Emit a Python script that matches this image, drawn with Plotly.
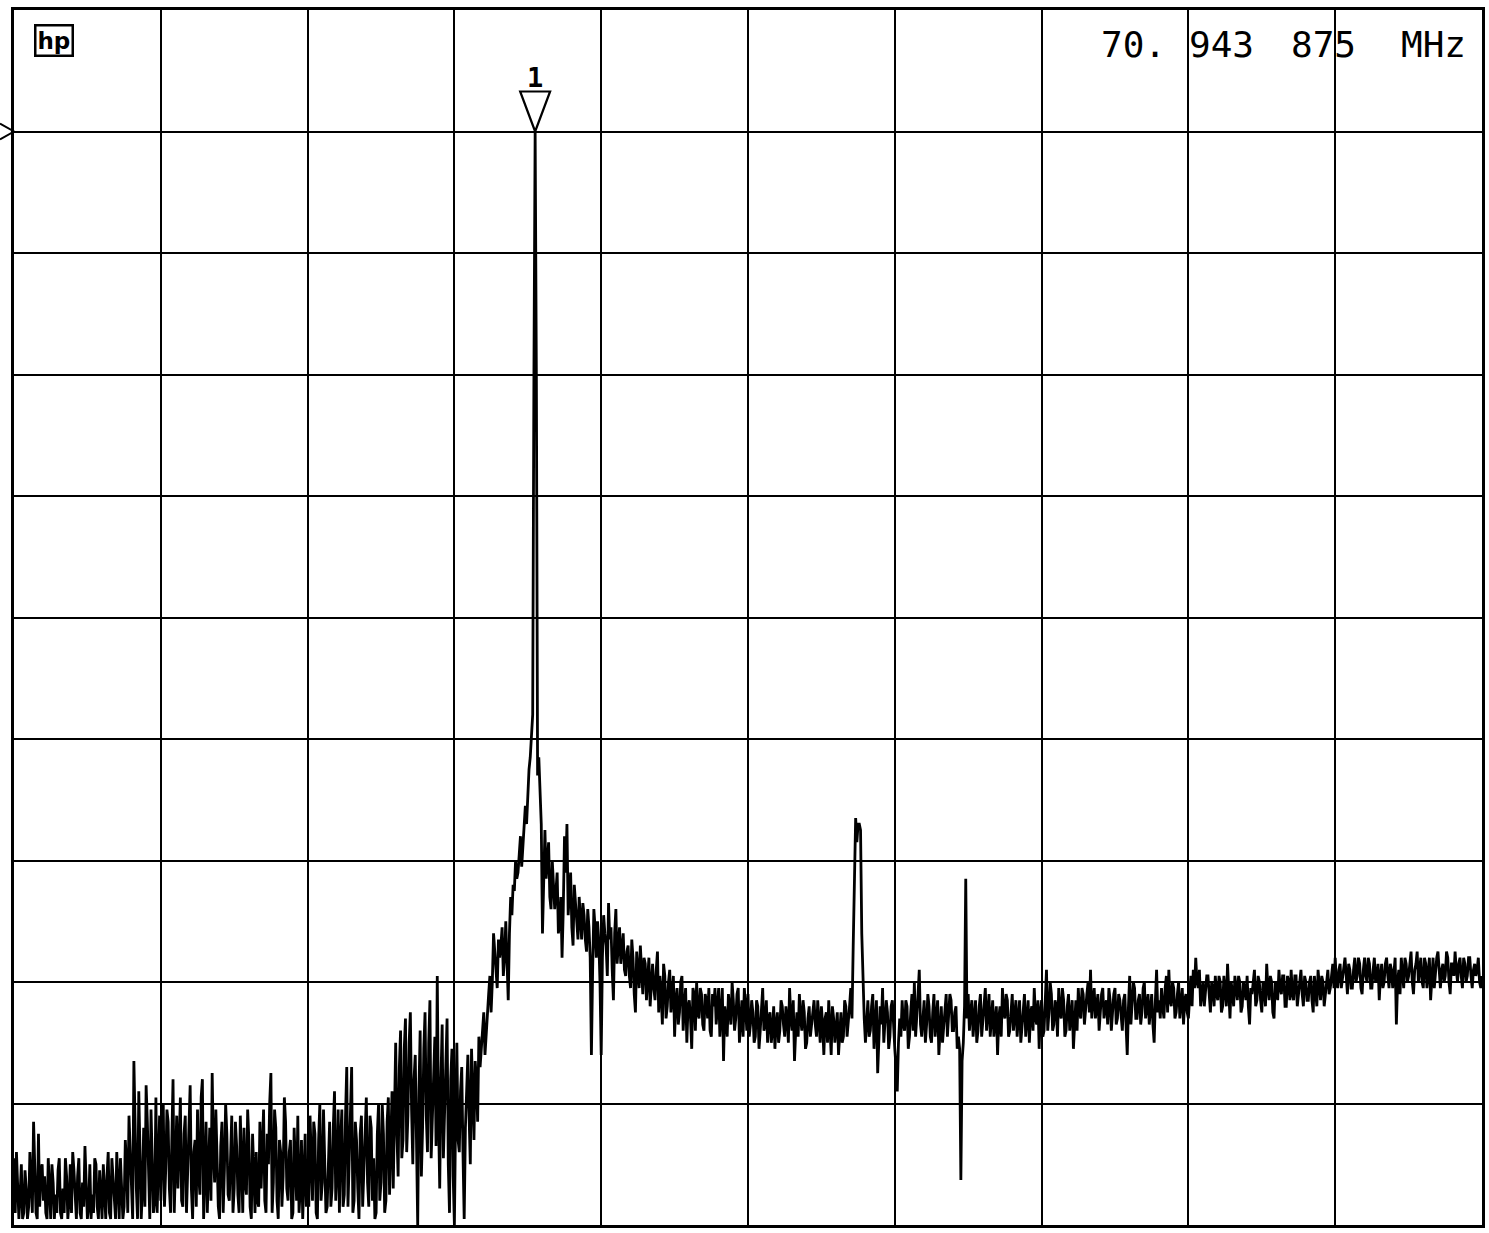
import numpy as np
import plotly.graph_objects as go

# Trace level (screen divisions above the bottom graticule line), 60 bins per horizontal division
div0 = [0.55,0.60,0.05,0.50,0.10,0.30,0.15,0.40,0.85,0.10,
        0.75,0.45,0.20,0.10,0.55,0.05,0.35,0.25,0.45,0.10,
        0.30,0.55,0.05,0.50,0.60,0.20,0.40,0.10,0.35,0.65,
        0.05,0.50,0.25,0.55,0.15,0.45,0.05,0.30,0.40,0.10,
        0.55,0.20,0.60,0.05,0.35,0.15,0.50,0.90,0.20,1.35,
        0.30,1.10,0.05,0.80,1.15,0.40,0.95,0.10,1.05,0.60]
div1 = [0.20,1.00,0.45,0.85,0.10,1.20,0.55,0.30,1.05,0.15,
        0.90,0.40,1.15,0.05,0.70,0.95,0.25,1.20,0.50,0.10,
        0.80,1.25,0.35,0.60,0.05,0.85,0.45,0.75,0.20,0.90,
        0.30,0.65,0.10,0.55,0.80,0.25,0.70,0.05,0.45,0.60,
        0.15,0.30,0.95,0.10,0.50,1.25,0.35,0.80,0.05,0.60,
        0.40,0.85,0.20,0.70,0.10,0.55,0.90,0.30,0.05,0.75]
div2 = [0.40,0.90,0.20,0.75,0.05,1.00,0.35,0.60,0.15,0.85,
        0.30,1.10,0.45,0.10,0.95,0.25,1.30,0.50,1.30,0.20,
        0.70,0.05,0.90,0.40,1.05,0.15,0.80,0.55,0.10,1.00,
        0.35,0.75,0.20,1.05,0.60,0.30,1.50,0.40,1.60,0.70,
        1.70,0.90,1.75,0.50,1.40,0.00,1.60,0.80,1.75,0.60,
        1.85,0.90,1.55,2.05,0.30,1.65,0.95,1.70,0.10,1.45]
div3 = [0.00,1.50,0.60,1.30,0.05,1.20,0.90,1.45,0.70,1.20,
        1.55,1.45,1.75,1.60,1.90,1.75,2.40,2.10,2.35,2.30,
        2.05,2.50,1.85,2.70,2.80,3.00,2.90,3.20,3.10,3.45,
        3.60,3.85,4.20,9.00,3.70,3.50,2.40,3.25,3.05,2.70,
        3.00,2.60,2.90,2.50,2.20,3.20,3.30,2.75,2.45,2.80,
        2.50,2.70,2.35,2.55,2.25,2.45,1.40,2.60,2.20,2.35]
div4 = [1.40,2.55,2.30,2.65,2.45,1.85,2.60,2.30,2.15,2.40,
        2.05,2.30,1.95,2.20,1.75,2.10,2.30,1.90,2.15,2.00,
        1.80,2.15,1.85,2.25,2.05,1.65,2.05,1.80,2.10,1.90,
        1.55,1.95,1.75,2.05,1.80,1.50,1.85,1.45,1.90,2.00,
        1.70,1.90,1.60,1.85,1.95,1.55,1.80,1.65,1.95,1.75,
        1.35,1.70,1.90,1.65,1.85,1.70,1.95,1.75,1.55,1.80]
div5 = [1.90,1.65,1.75,1.55,1.80,1.60,1.95,1.65,1.50,1.75,
        1.60,1.45,1.75,1.60,1.80,1.55,1.70,1.95,1.60,1.35,
        1.75,1.90,1.60,1.75,1.50,1.80,1.65,1.85,1.55,1.70,
        1.80,1.40,1.75,1.85,1.40,1.70,1.60,1.40,1.75,1.55,
        1.80,1.65,1.95,2.30,3.35,3.30,3.25,1.90,1.50,1.85,
        1.60,1.90,1.70,1.25,1.80,1.95,1.65,1.75,1.55,1.85]
div6 = [1.45,1.10,1.70,1.85,1.60,1.80,1.55,1.90,2.00,1.70,
        2.10,1.55,1.85,1.65,1.80,1.50,1.90,1.70,1.40,1.80,
        1.65,1.90,1.70,1.85,1.60,1.80,1.55,0.37,1.50,2.85,
        1.90,1.75,1.55,1.85,1.60,1.90,1.70,1.95,1.75,1.55,
        1.85,1.65,1.40,1.80,1.95,1.70,1.85,1.60,1.90,1.75,
        1.55,1.85,1.65,1.90,1.70,1.50,1.80,1.95,1.65,1.45]
div7 = [1.85,1.60,2.10,1.75,1.90,1.65,1.80,1.95,1.70,1.85,
        1.60,1.90,1.75,1.45,1.85,1.95,1.70,1.90,1.80,2.00,
        2.10,1.85,1.70,1.90,1.75,1.95,1.80,1.65,1.85,1.75,
        1.95,1.70,1.85,1.60,1.90,1.40,2.05,1.80,1.95,1.70,
        1.90,1.75,2.00,1.80,1.65,1.90,1.50,2.10,1.85,1.95,
        1.70,2.05,2.10,1.80,1.95,1.75,2.00,1.85,1.65,1.90]
div8 = [1.70,2.05,2.10,2.20,1.95,1.80,2.00,1.90,2.05,1.75,
        1.95,2.05,1.85,2.00,1.80,1.95,2.15,1.70,1.90,2.05,
        1.85,2.00,1.80,1.95,2.05,1.65,1.90,2.10,1.85,2.00,
        1.75,1.95,2.15,1.85,2.00,1.70,1.95,2.10,1.90,2.05,
        1.80,2.00,2.10,1.85,2.05,1.90,2.10,1.80,2.00,1.85,
        2.05,1.75,1.95,2.10,1.85,2.00,1.90,2.10,1.95,2.15]
div9 = [2.20,1.95,2.15,2.05,2.20,1.90,2.10,1.95,2.20,2.05,
        2.15,1.90,2.20,2.00,2.15,1.95,2.20,2.05,1.85,2.15,
        2.00,2.20,1.95,2.10,2.05,1.65,2.10,2.20,1.95,2.15,
        2.05,2.25,1.90,2.15,2.00,2.20,1.95,2.15,2.05,1.85,
        2.20,2.10,2.25,1.95,2.15,2.05,2.20,1.90,2.15,2.25,
        2.00,2.20,1.95,2.15,2.05,2.20,1.95,2.15,2.10,2.00,
        2.05]

# Levels read half-way between the bins above
mid0 = [0.10,0.35,0.25,0.05,0.45,0.05,0.60,0.10,0.50,0.05,
        0.15,0.50,0.40,0.05,0.30,0.50,0.05,0.10,0.55,0.05,
        0.10,0.40,0.20,0.10,0.45,0.05,0.55,0.05,0.15,0.40,
        0.15,0.05,0.10,0.50,0.05,0.25,0.50,0.05,0.60,0.05,
        0.40,0.05,0.30,0.55,0.05,0.70,0.10,0.55,0.05,0.80,
        0.05,0.60,0.30,0.15,0.85,0.05,0.45,0.20,0.10,0.90]
mid1 = [0.55,0.15,0.95,0.30,0.70,0.10,0.90,0.65,0.20,0.75,
        0.10,0.85,0.30,0.60,0.15,0.40,1.05,0.05,0.85,0.55,
        0.20,0.60,0.95,0.15,0.65,0.10,1.00,0.25,0.65,0.10,
        0.85,0.25,0.90,0.10,0.35,0.95,0.15,0.75,0.10,0.20,
        0.85,0.60,0.20,0.75,1.00,0.10,0.95,0.20,0.70,0.15,
        1.05,0.30,0.60,0.05,0.80,0.20,0.10,0.70,0.40,0.15]
mid2 = [0.15,0.55,0.85,0.10,0.70,0.20,0.95,0.10,0.60,0.15,
        0.80,0.20,0.95,0.70,0.15,0.90,0.15,0.95,0.10,0.85,
        0.30,0.75,0.15,0.80,0.35,0.90,0.20,0.05,0.75,0.20,
        1.00,0.10,0.85,0.25,1.10,0.85,0.75,1.30,0.55,1.45,
        0.60,1.50,0.95,1.20,0.70,1.10,0.40,1.45,0.90,1.50,
        0.55,1.30,0.65,0.90,1.20,0.55,1.40,0.50,1.20,0.40]
mid3 = [0.90,0.70,1.10,0.60,0.80,1.40,0.50,1.10,1.35,0.85,
        1.30,1.65,1.40,1.80,2.05,2.00,2.25,1.95,2.20,2.45,
        2.20,2.15,2.40,2.55,2.75,2.85,3.05,2.95,3.30,3.30,
        3.75,4.00,7.00,7.00,3.85,3.30,2.90,2.85,3.15,2.60,
        2.80,2.75,2.40,2.70,2.60,2.90,2.55,2.90,2.30,2.65,
        2.35,2.55,2.65,2.35,2.60,2.20,2.10,2.45,2.50,2.00]
mid4 = [2.20,2.40,2.05,2.35,2.10,2.40,2.15,2.45,2.30,2.10,
        2.25,2.05,2.35,1.90,2.25,1.95,2.10,2.20,1.85,2.20,
        2.05,1.95,2.10,1.75,1.90,2.15,1.70,2.00,1.75,2.05,
        1.85,1.65,2.00,1.60,1.95,1.80,1.70,1.95,1.60,1.75,
        1.95,1.65,1.90,1.70,1.60,1.90,1.95,1.80,1.55,1.95,
        1.80,1.55,1.75,2.00,1.60,1.90,1.50,1.85,1.95,1.60]
mid5 = [1.55,1.85,1.50,1.85,1.45,1.80,1.60,1.85,1.70,1.50,
        1.80,1.65,1.50,1.85,1.65,1.80,1.50,1.70,1.85,1.60,
        1.55,1.70,1.85,1.45,1.70,1.55,1.75,1.65,1.85,1.50,
        1.65,1.70,1.50,1.65,1.80,1.50,1.75,1.65,1.50,1.85,
        1.55,1.80,1.70,2.90,3.15,3.30,2.40,1.70,1.75,1.55,
        1.80,1.45,1.85,1.55,1.65,1.50,1.85,1.45,1.80,1.60]
mid6 = [1.30,1.50,1.55,1.65,1.85,1.45,1.75,1.60,1.55,1.90,
        1.65,1.75,1.50,1.90,1.55,1.75,1.55,1.85,1.65,1.50,
        1.80,1.55,1.90,1.60,1.75,1.45,1.45,1.35,1.80,1.70,
        1.60,1.85,1.70,1.50,1.80,1.55,1.85,1.60,1.90,1.75,
        1.55,1.80,1.70,1.55,1.75,1.90,1.55,1.80,1.60,1.85,
        1.70,1.50,1.80,1.55,1.85,1.75,1.60,1.70,1.85,1.75]
mid7 = [1.55,1.90,1.60,2.00,1.60,1.85,1.55,1.75,1.95,1.55,
        1.80,1.60,1.85,1.70,1.60,1.75,1.95,1.65,1.90,1.75,
        1.70,1.95,1.80,1.60,1.90,1.70,1.85,1.95,1.60,1.90,
        1.65,1.90,1.70,1.85,1.65,1.80,1.65,2.00,1.70,1.85,
        1.65,1.95,1.70,1.90,1.80,1.65,1.85,1.75,1.70,1.80,
        1.95,1.75,1.85,2.00,1.70,1.90,1.70,1.95,1.85,1.75]
mid8 = [1.95,1.80,1.95,2.00,2.10,1.90,1.80,2.05,1.85,2.00,
        1.80,1.90,2.05,1.75,2.05,1.80,1.90,2.00,1.80,1.95,
        2.05,1.75,2.00,1.85,1.80,1.95,2.00,1.80,2.05,1.85,
        2.00,1.80,1.95,2.05,1.75,2.00,1.85,1.95,2.05,1.80,
        2.05,1.85,1.90,2.05,1.80,2.05,1.90,2.05,1.85,2.00,
        1.85,2.05,1.80,1.95,2.05,1.80,2.05,1.90,2.05,1.95]
mid9 = [2.00,2.10,1.95,2.15,2.05,2.15,1.95,2.10,2.00,2.20,
        1.95,2.10,2.05,2.20,1.95,2.10,2.00,2.15,2.05,1.95,
        2.15,2.05,2.15,1.95,2.20,2.00,1.90,2.05,2.20,2.00,
        2.15,2.00,2.10,2.25,2.10,2.00,2.20,1.95,2.20,2.05,
        1.95,2.20,2.05,2.10,2.00,2.25,2.00,2.15,2.05,2.10,
        2.15,2.05,2.20,2.00,2.20,2.05,2.10,2.05,2.20,1.95]

marker_label = "1"
marker_readout = ["70.", "943", "875", "MHz"]
ref_level_div = 9

level = np.array(div0 + div1 + div2 + div3 + div4 + div5 + div6 + div7 + div8 + div9)
mid = np.array(mid0 + mid1 + mid2 + mid3 + mid4 + mid5 + mid6 + mid7 + mid8 + mid9)
bins_per_div = 60
xb = np.arange(len(level)) / bins_per_div
xm = (np.arange(len(mid)) + 0.5) / bins_per_div

# interleave bins and half-bin readings into one trace
xs = np.empty(len(level) + len(mid))
ys = np.empty_like(xs)
xs[0::2], ys[0::2] = xb, level
xs[1::2], ys[1::2] = xm, mid

W, H = 1489, 1233
ml, mr, mt, mb = 14, 4, 10, 8
pw = W - ml - mr
ph = H - mt - mb

fig = go.Figure()
fig.add_trace(go.Scatter(x=xs, y=ys, mode="lines",
                         line=dict(color="black", width=2.8),
                         hoverinfo="skip", showlegend=False))

# Marker 1 at the peak
ip = int(np.argmax(level))
xp, yp = xb[ip], level[ip]
dx_half = 15 / pw * 10
dy_tri = 40 / ph * 10
fig.add_shape(type="path",
              path=f"M {xp},{yp} L {xp-dx_half},{yp+dy_tri} L {xp+dx_half},{yp+dy_tri} Z",
              line=dict(color="black", width=2.2), fillcolor="rgba(0,0,0,0)")
fig.add_annotation(x=xp, y=yp + dy_tri, yanchor="bottom", xanchor="center",
                   text="<b>" + marker_label + "</b>", showarrow=False, yshift=-3,
                   font=dict(family="DejaVu Sans Mono", size=27, color="black"))

# Reference level arrow at left edge
fig.add_shape(type="path", xref="paper", yref="y",
              path=f"M {-14/pw},{ref_level_div+8/ph*10} L 0,{ref_level_div} L {-14/pw},{ref_level_div-8/ph*10}",
              line=dict(color="black", width=2))

# Marker readout at top right
starts = [1101, 1189, 1292, 1402]
for txt, px0 in zip(marker_readout, starts):
    fig.add_annotation(xref="paper", yref="paper", x=(px0 - ml) / pw, y=(H - mb - 45) / ph,
                       xanchor="left", yanchor="middle", text=txt, showarrow=False,
                       font=dict(family="DejaVu Sans Mono", size=36, color="black"))

# hp logo
fig.add_annotation(xref="paper", yref="paper", x=(54 - ml) / pw, y=(H - mb - 40) / ph,
                   xanchor="center", yanchor="middle", text="<b>hp</b>", showarrow=False,
                   bordercolor="black", borderwidth=2.5, borderpad=1,
                   font=dict(family="DejaVu Sans", size=23, color="black"))

axis_common = dict(range=[0, 10], dtick=1, tick0=0, showgrid=True, gridcolor="black",
                   gridwidth=2, showline=True, linecolor="black", linewidth=2.5,
                   mirror=True, zeroline=False, showticklabels=False, ticks="",
                   fixedrange=True)
fig.update_xaxes(**axis_common)
fig.update_yaxes(**axis_common)
fig.update_layout(width=W, height=H, margin=dict(l=ml, r=mr, t=mt, b=mb),
                  paper_bgcolor="white", plot_bgcolor="white", showlegend=False)

fig.write_html("out.html", config={"responsive": False, "displayModeBar": False},
               post_script="document.body.style.margin='0px';document.body.style.overflow='hidden';")
